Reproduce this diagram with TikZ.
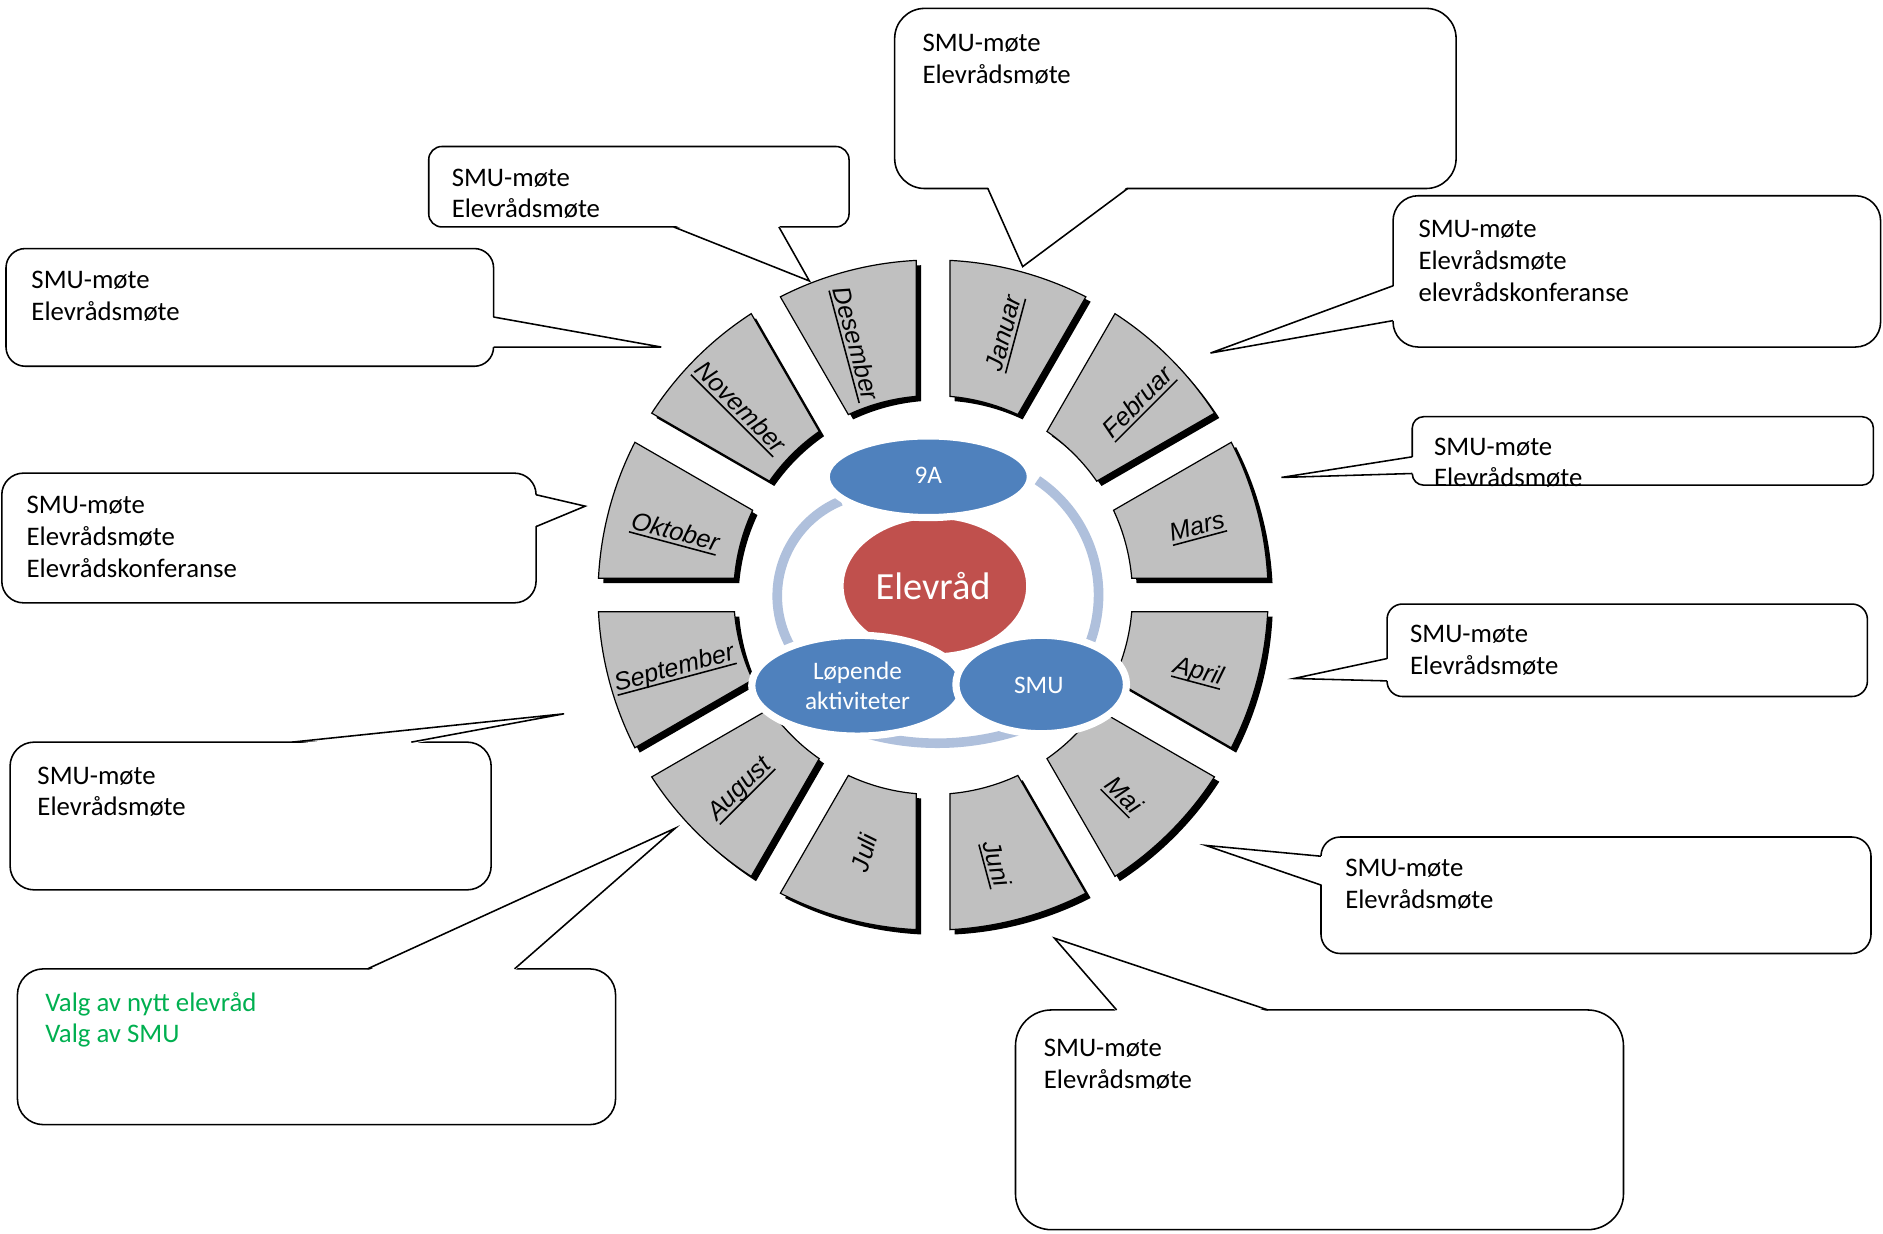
\documentclass[tikz,border=0pt]{standalone}
\usepackage{fontspec}
\setmainfont{Carlito}
\newfontfamily\monthfont{Liberation Sans}
\definecolor{segfill}{RGB}{192,192,192}
\definecolor{blueell}{RGB}{79,129,189}
\definecolor{redell}{RGB}{192,80,77}
\definecolor{ringcol}{RGB}{175,192,220}
\definecolor{greentext}{RGB}{0,176,80}
\newcommand\segpath{(\ao:279) arc[start angle=\ao, end angle=\bo, radius=279] -- (\bi:166) arc[start angle=\bi, end angle=\ai, radius=166] -- cycle}
\newcommand\monthul[1]{\setbox0=\hbox{#1}\rlap{\vrule width\wd0 height -2.6pt depth 3.9pt}\box0}
\begin{document}
\begin{tikzpicture}[x=1pt,y=1pt,
  bubble/.style={draw=black, line width=1.3pt, fill=white},
  pointer/.style={draw=black, line width=1.3pt, line join=miter},
  ctext/.style={inner sep=0pt, anchor=base west, font=\fontsize{22.3}{26.5}\selectfont},
  ell/.style={draw=white, line width=6pt, fill=blueell},
  etext/.style={text=white, align=center, font=\fontsize{21}{25}\selectfont},
  ringarc/.style={draw=ringcol, line width=8pt},
  mtext/.style={inner sep=0pt, font=\monthfont\itshape\fontsize{21}{24}\selectfont}]
\useasboundingbox (0,0) rectangle (1568,1027);
\fill[white] (0,0) rectangle (1568,1027);

\begin{scope}[y=-1pt, yshift=1027pt]
% Januar
\draw[bubble, rounded corners=25pt] (745,7) rectangle (1212.5,157);
\fill[white] (822.6,155.4) -- (851.6,222) -- (939,155.4) -- cycle;
\draw[pointer] (822.6,157) -- (851.6,222) -- (939,157);
\node[ctext] (tJan) at (768,43) {\vtop{\hbox{SMU-møte}\hbox{Elevrådsmøte}}};
% Desember
\draw[bubble, rounded corners=11pt] (357,122) rectangle (707,189);
\fill[white] (561,187.4) -- (674,234) -- (648.6,187.4) -- cycle;
\draw[pointer] (561,189) -- (674,234) -- (648.6,189);
\node[ctext] (tDes) at (376,155) {\vtop{\hbox{SMU-møte}\hbox{Elevrådsmøte}}};
% November
\draw[bubble, rounded corners=16pt] (5,207) rectangle (411,305);
\fill[white] (409.4,264) -- (550.6,289) -- (409.4,289) -- cycle;
\draw[pointer] (411,264) -- (550.6,289) -- (411,289);
\node[ctext] (tNov) at (26,240) {\vtop{\hbox{SMU-møte}\hbox{Elevrådsmøte}}};
% Oktober
\draw[bubble, rounded corners=18pt] (1.5,394) rectangle (446.4,502);
\fill[white] (444.8,412) -- (487.3,421.5) -- (444.8,438.5) -- cycle;
\draw[pointer] (446.4,412) -- (487.3,421.5) -- (446.4,438.5);
\node[ctext] (tOkt) at (22,428) {\vtop{\hbox{SMU-møte}\hbox{Elevrådsmøte}\hbox{Elevrådskonferanse}}};
% September
\draw[bubble, rounded corners=20pt] (8.4,618) rectangle (409,741);
\fill[white] (243,619.6) -- (469.7,594.4) -- (342.5,619.6) -- cycle;
\draw[pointer] (243,618) -- (469.7,594.4) -- (342.5,618);
\node[ctext] (tSep) at (31,653) {\vtop{\hbox{SMU-møte}\hbox{Elevrådsmøte}}};
% August
\draw[bubble, rounded corners=21.6pt] (14.5,806.8) rectangle (512.6,936.5);
\fill[white] (306,808.4) -- (562.4,689.6) -- (428.5,808.4) -- cycle;
\draw[pointer] (306,806.8) -- (562.4,689.6) -- (428.5,806.8);
\node[ctext, text=greentext] (tAug) at (37.5,842) {\vtop{\hbox{Valg av nytt elevråd}\hbox{Valg av SMU}}};
% Juni
\draw[bubble, rounded corners=30pt] (845.6,841) rectangle (1351.9,1024);
\fill[white] (929.8,842.6) -- (878,781.2) -- (1055.9,842.6) -- cycle;
\draw[pointer] (929.8,841) -- (878,781.2) -- (1055.9,841);
\node[ctext] (tJun) at (869,880) {\vtop{\hbox{SMU-møte}\hbox{Elevrådsmøte}}};
% Mai
\draw[bubble, rounded corners=16pt] (1100,697) rectangle (1558,794);
\fill[white] (1101.6,713) -- (1004,704) -- (1101.6,737) -- cycle;
\draw[pointer] (1100,713) -- (1004,704) -- (1100,737);
\node[ctext] (tMai) at (1120,730) {\vtop{\hbox{SMU-møte}\hbox{Elevrådsmøte}}};
% April
\draw[bubble, rounded corners=12.8pt] (1155,503) rectangle (1555,580);
\fill[white] (1156.6,548.4) -- (1077.5,565) -- (1156.6,567) -- cycle;
\draw[pointer] (1155,548.4) -- (1077.5,565) -- (1155,567);
\node[ctext] (tApr) at (1174,535) {\vtop{\hbox{SMU-møte}\hbox{Elevrådsmøte}}};
% Mars
\draw[bubble, rounded corners=9.5pt] (1176,347) rectangle (1560,404);
\fill[white] (1177.6,380.4) -- (1067,397.6) -- (1177.6,394.3) -- cycle;
\draw[pointer] (1176,380.4) -- (1067,397.6) -- (1176,394.3);
\node[ctext] (tMar) at (1194,379) {\vtop{\hbox{SMU-møte}\hbox{Elevrådsmøte}}};
% Februar
\draw[bubble, rounded corners=21pt] (1160,163) rectangle (1566,289);
\fill[white] (1161.6,238) -- (1008,294) -- (1161.6,267) -- cycle;
\draw[pointer] (1160,238) -- (1008,294) -- (1160,267);
\node[ctext] (tFeb) at (1181,198) {\vtop{\hbox{SMU-møte}\hbox{Elevrådsmøte}\hbox{elevrådskonferanse}}};
\end{scope}

% wheel
\begin{scope}[shift={(777,531.5)}]
\foreach \c/\m/\u/\la/\lr in {75/Januar/1/74.5/226,45/Februar/1/43/234,15/Mars/1/14.2/227,-15/April/1/-16.3/230,-45/Mai/1/-46.7/230,-75/Juni/1/-77/230,-105/Juli/0/-105/222,-135/August/1/-134.7/228,-165/September/1/-164/224,165/Oktober/1/166.5/221,135/November/1/136/224,105/Desember/1/107.4/219}{
  \pgfmathsetmacro\ao{\c-15+2.876}
  \pgfmathsetmacro\bo{\c+15-2.876}
  \pgfmathsetmacro\ai{\c-15+4.838}
  \pgfmathsetmacro\bi{\c+15-4.838}
  \pgfmathsetmacro\rot{\c>90 ? \c-180 : (\c<-90 ? \c+180 : \c)}
  \begin{scope}[shift={(4,-4)}]
    \fill[black] \segpath;
  \end{scope}
  \draw[fill=segfill, draw=black, line width=1pt, line join=miter] \segpath;
  \node[mtext, rotate=\rot] (lbl-\m) at (\la:\lr) {\ifnum\u=1 \monthul{\m}\else\m\fi};
}
\end{scope}

% centre: connecting arcs
\draw[ringarc] (732.8,530.7) ++(112.5:85.6) arc[start angle=112.5, end angle=211, radius=85.6];
\draw[ringarc] (800,531.7) ++(56.2:114.8) arc[start angle=56.2, end angle=-22, radius=114.8];
\draw[ringarc] (780.6,629.1) ++(-106:221) arc[start angle=-106, end angle=-72, radius=221];

\begin{scope}[y=-1pt, yshift=1027pt]
\draw[ell, fill=redell] (778.5,488) ellipse[x radius=79pt, y radius=59pt];
\draw[ell] (773,397) ellipse[x radius=85pt, y radius=34pt];
\draw[ell] (714,571) ellipse[x radius=88pt, y radius=42pt];
\draw[ell] (867,570) ellipse[x radius=71pt, y radius=41pt];
\node[etext, font=\fontsize{32}{36}\selectfont] (elevrad) at (777,488) {Elevråd};
\node[etext] (nineA) at (773,396) {9A};
\node[etext] (lopende) at (714,571) {Løpende\\aktiviteter};
\node[etext] (smu) at (865,571) {SMU};
\end{scope}
\end{tikzpicture}
\end{document}
